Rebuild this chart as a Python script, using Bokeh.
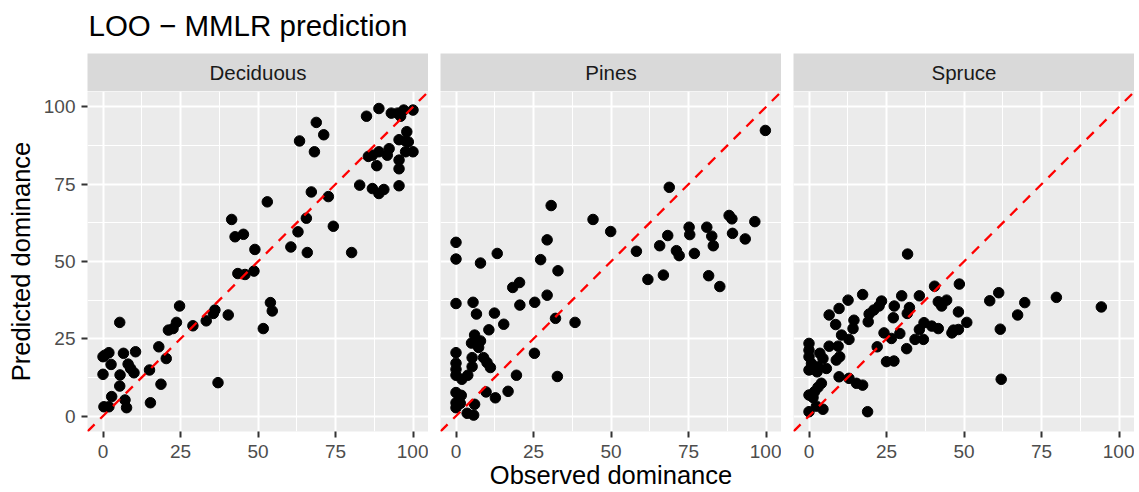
from bokeh.plotting import figure
from bokeh.layouts import row, column
from bokeh.models import Range1d, FixedTicker, Slope
from bokeh.core.properties import value
from bokeh.embed import file_html
from bokeh.resources import INLINE

FONT = "Liberation Sans"

TITLE = "LOO \u2212 MMLR prediction"
X_LABEL = "Observed dominance"
Y_LABEL = "Predicted dominance"
panel_names = ["Deciduous", "Pines", "Spruce"]
tick_values = [0, 25, 50, 75, 100]
minor_values = [12.5, 37.5, 62.5, 87.5]

deciduous_obs = [89, 85, 93, 95, 96, 97, 100, 98, 95.5, 97.6, 98.5, 92.3, 89, 86.9, 85.6, 91.7,
                 97.6, 100, 88.3, 95.5, 95.5, 95.5, 82.8, 86.9, 89, 90.6, 63.4, 68.8, 71.2, 68.2,
                 67.2, 72.7, 53, 41.5, 42.6, 45.3, 49, 60.6, 65.6, 62.9, 65.9, 74.3, 80.2, 43.5,
                 45.8, 48.7, 54, 54.6, 51.7, 40.4, 35.6, 36.1, 33.3, 29, 24.7, 23.7, 22.6, 21.1,
                 18, 20.4, 15, 18.7, 15.3, 37.1, 5.4, 0, 0.6, 1.9, 6.6, 10.5, 2.6, 8.1, 8.9, 10,
                 0, 5.5, 5.4, 2.8, 7.1, 7.6, 0.3, 1.9]
deciduous_pred = [99.5, 97, 98, 98, 97, 99, 99, 92, 89.4, 89, 88.7, 86.5, 85.5, 84.4, 84, 84.4,
                  85.5, 85.5, 81, 82.8, 80, 74.5, 74.7, 73.6, 72, 73.3, 89, 95, 91, 85.5,
                  72.5, 71, 69.3, 63.6, 58, 58.8, 53.9, 54.7, 64, 59.6, 52.9, 61.4, 52.9, 46.1,
                  45.8, 46.9, 36.7, 34, 28.3, 32.7, 33.2, 34.3, 30.8, 29.2, 35.6, 30.3, 28.3, 27.8,
                  22.4, 18.6, 14.9, 10.3, 4.3, 10.8, 30.3, 19.2, 19.7, 20.5, 20.3, 20.8, 16.7, 16.8,
                  15.4, 14, 13.5, 13.3, 9.7, 6.3, 5.2, 2.7, 3, 3]

pines_obs = [99.8, 68.8, 30.7, 44.2, 49.9, 88.1, 89, 96.4, 75.2, 75.4, 80.9, 82.5, 83, 89.2, 93.3,
             68.3, 65.7, 71.1, 72, 76.9, 58.2, 66.9, 61.9, 81.5, 85.1, 0, 0, 7.9, 13.3, 29.4,
             27.3, 32.9, 18.3, 20.5, 20.6, 25.4, 29.4, 0, 5.5, 6.6, 12.4, 15.4, 10.6, 32.1, 38.4,
             6, 5, 7.9, 7.3, 0, 25.3, 5.2, 8.9, 10, 11.1, 0, 0, 5.2, 0, 1.9, 3.8, 19.5, 32.7,
             9.7, 12.7, 16.8, 0, 1.7, 0, 1.4, 0, 6, 3.6, 5.7]
pines_pred = [92.4, 74, 68.1, 63.6, 59.7, 64.9, 63.8, 62.9, 61.1, 58.7, 61.1, 58.2, 55.1, 59.1, 57.3,
              58.4, 55.1, 53.5, 51.9, 52.6, 53.3, 45.6, 44.2, 45.4, 41.9, 56.2, 50.8, 49.5, 52.6, 57,
              50.6, 47, 41.6, 43.2, 35.9, 36.8, 39.1, 36.4, 36.8, 33, 33.3, 29.7, 27.9, 31.6, 30.3,
              26.2, 23.6, 24.3, 22.2, 20.5, 20.3, 18.9, 18.9, 17.3, 15.7, 17.1, 15.1, 16, 13.2, 11.9,
              13.2, 13.2, 12.8, 7.8, 5.9, 8, 7.6, 6.7, 4.3, 4.1, 2.7, 3.8, 0.9, 0.3]

spruce_obs = [31.8, 40.5, 48.5, 61.2, 58.3, 69.6, 79.8, 94.3, 67.3, 61.7, 62, 50.9, 48.2, 48.2,
              41.7, 44.4, 42.8, 35.6, 29.9, 32.4, 31.7, 27.5, 27.2, 23.4, 22.6, 20.9, 19.4, 19.1,
              17.3, 12.6, 9.7, 6.5, 8.6, 14.5, 14.2, 12.9, 10.5, 24.2, 26.6, 29.3, 35.6, 37.1,
              39.6, 41.7, 46.1, 46.6, 34.2, 36.9, 22, 31.5, 25, 27.4, 6.5, 9.4, 9.9, 8.8, 0, 0,
              0, 0.8, 0, 3.5, 4.5, 2.9, 5.6, 2.6, 9.7, 12.9, 15.3, 17.3, 4, 2.9, 1.8, 0, 1.3, 0,
              2.4, 4.5, 18.9]
spruce_pred = [52.4, 42, 42.7, 39.9, 37.3, 36.7, 38.4, 35.3, 32.7, 28.1, 11.9, 30.3, 33.7, 28,
               37, 37.5, 35.6, 38.9, 38.9, 35.1, 33.2, 35.6, 31.8, 37.2, 35.6, 34.3, 33, 30.5,
               39.3, 37.5, 34.8, 32.7, 29.6, 31, 28.3, 24.8, 26.2, 26.9, 25.1, 26.7, 28, 30.2,
               29.1, 28.3, 26.9, 27.8, 24.8, 24.8, 22.4, 21.8, 17.6, 17.8, 22.6, 22.6, 19.2, 18.1,
               23.5, 21.3, 19.2, 17, 14.9, 20.3, 18.6, 15.9, 15.4, 14.3, 12.7, 12.2, 10.6, 10,
               10.6, 9.3, 7.9, 6.8, 6, 1.4, 3.2, 2.2, 1.4]

observed = [deciduous_obs, pines_obs, spruce_obs]
predicted = [deciduous_pred, pines_pred, spruce_pred]

FRAME_W = 341
FRAME_H = 340
STRIP_H = 38
TITLE_H = 53
LEFT_FIRST = 87
GAP = 12
BOTTOM = 60
TOTAL_W = LEFT_FIRST + 3 * FRAME_W + 2 * GAP

# title band (pixel-unit ranges so the title sits where ggplot puts it)
t = figure(frame_width=TOTAL_W, frame_height=TITLE_H,
           x_range=Range1d(0, TOTAL_W), y_range=Range1d(0, TITLE_H),
           x_axis_location=None, y_axis_location=None,
           toolbar_location=None, output_backend="svg",
           min_border=0, background_fill_color="white", border_fill_color="white",
           outline_line_color=None)
t.grid.visible = False
t.text(x=[LEFT_FIRST + 1], y=[TITLE_H / 2 + 2], text=[TITLE], text_align="left",
       text_baseline="middle", text_font=value(FONT), text_font_size="29.5px",
       text_color="black")

strips = []
panels = []
for i, name in enumerate(panel_names):
    left = LEFT_FIRST if i == 0 else GAP

    s = figure(frame_width=FRAME_W, frame_height=STRIP_H,
               x_range=Range1d(0, 1), y_range=Range1d(0, 1),
               x_axis_location=None, y_axis_location=None,
               toolbar_location=None, output_backend="svg",
               min_border_left=left, min_border_right=0,
               min_border_top=0, min_border_bottom=0,
               background_fill_color="#D9D9D9", border_fill_color="white",
               outline_line_color=None)
    s.grid.visible = False
    s.text(x=[0.5], y=[0.5], text=[name], text_align="center", text_baseline="middle",
           text_font=value(FONT), text_font_size="20.5px", text_color="#1A1A1A")
    strips.append(s)

    p = figure(frame_width=FRAME_W, frame_height=FRAME_H,
               x_range=Range1d(-5, 105), y_range=Range1d(-5, 105),
               y_axis_location="left" if i == 0 else None,
               toolbar_location=None, output_backend="svg",
               min_border_left=left, min_border_right=0,
               min_border_top=0, min_border_bottom=BOTTOM,
               background_fill_color="#EBEBEB", border_fill_color="white",
               outline_line_color=None)

    ticker = FixedTicker(ticks=tick_values, minor_ticks=minor_values)
    for g in (p.xgrid[0], p.ygrid[0]):
        g.ticker = ticker
        g.grid_line_color = "white"
        g.grid_line_width = 2
        g.minor_grid_line_color = "white"
        g.minor_grid_line_width = 1

    for ax in p.axis:
        ax.ticker = ticker
        ax.axis_line_color = None
        ax.major_tick_in = 0
        ax.major_tick_out = 6
        ax.major_tick_line_color = "#333333"
        ax.major_tick_line_width = 2
        ax.minor_tick_line_color = None
        ax.major_label_text_font = FONT
        ax.major_label_text_font_size = "19px"
        ax.major_label_text_color = "#4D4D4D"
        ax.axis_label_text_font = FONT
        ax.axis_label_text_font_size = "25.5px"
        ax.axis_label_text_font_style = "normal"
        ax.axis_label_text_color = "black"

    p.xaxis.major_label_standoff = 7
    if i == 0:
        p.yaxis.major_label_standoff = 6
        p.yaxis.axis_label = Y_LABEL
        p.yaxis.axis_label_standoff = 6
    if i == 1:
        p.xaxis.axis_label = X_LABEL
        p.xaxis.axis_label_standoff = 0

    p.scatter(observed[i], predicted[i], size=10.5, color="black")
    p.add_layout(Slope(gradient=1, y_intercept=0, line_color="red",
                       line_dash="10 8", line_width=2.3))
    panels.append(p)

layout = column(t, row(*strips, spacing=0), row(*panels, spacing=0), spacing=0)

open("out.html", "w").write(file_html(layout, INLINE))
